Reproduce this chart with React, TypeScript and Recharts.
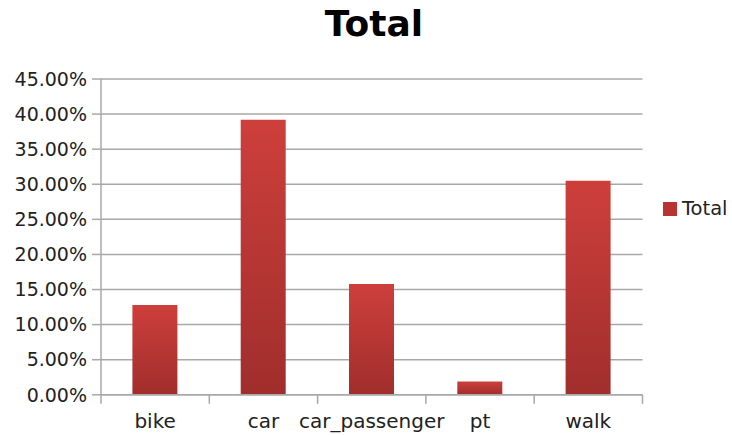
import React from 'react';
import { BarChart, Bar, XAxis, YAxis, CartesianGrid } from 'recharts';

const categories = ['bike', 'car', 'car_passenger', 'pt', 'walk'];
const totalValues = [0.128, 0.392, 0.158, 0.019, 0.305];
const yTicks = [0, 0.05, 0.1, 0.15, 0.2, 0.25, 0.3, 0.35, 0.4, 0.45];
const edgeTicks = [0, 1, 2, 3, 4, 5];
const seriesName = 'Total';

const data = categories.map((c, i) => ({ name: c, Total: totalValues[i], edge: i }));

const FONT = '"DejaVu Sans", sans-serif';
const GRID = '#a8a8a8';

export default function App() {
  return (
    <div style={{ position: 'absolute', left: 0, top: 0, width: 732, height: 435, background: '#fff' }}>
      <div
        style={{
          position: 'absolute',
          left: 274,
          top: 6,
          width: 200,
          textAlign: 'center',
          fontFamily: FONT,
          fontWeight: 'bold',
          fontSize: 36,
          lineHeight: '36px',
          color: '#000',
        }}
      >
        {seriesName}
      </div>
      <div
        style={{
          position: 'absolute',
          left: 663,
          top: 197,
          fontFamily: FONT,
          fontSize: 19.5,
          lineHeight: '24px',
          color: '#222',
          display: 'flex',
          alignItems: 'center',
        }}
      >
        <span style={{ display: 'inline-block', width: 14, height: 13.5, background: '#b83431', marginRight: 5 }} />
        <span>{seriesName}</span>
      </div>
      <BarChart
        width={732}
        height={435}
        data={data}
        margin={{ top: 79, right: 89.5, left: 0, bottom: 0 }}
        barCategoryGap="29%"
      >
        <defs>
          <linearGradient id="barGrad" x1="0" y1="0" x2="0" y2="1">
            <stop offset="0%" stopColor="#cd3f3b" />
            <stop offset="100%" stopColor="#a02e2c" />
          </linearGradient>
        </defs>
        <CartesianGrid vertical={false} stroke={GRID} strokeWidth={1.5} xAxisId="cat" />
        <XAxis
          xAxisId={0}
          type="number"
          dataKey="edge"
          domain={[0, 5]}
          allowDataOverflow
          ticks={edgeTicks}
          height={1}
          tickSize={9}
          tickFormatter={() => ''}
          axisLine={{ stroke: GRID, strokeWidth: 1.5 }}
          tickLine={{ stroke: GRID, strokeWidth: 1.5 }}
        />
        <XAxis
          xAxisId="cat"
          dataKey="name"
          height={39.2}
          axisLine={false}
          tickLine={false}
          tickSize={8}
          tickMargin={10}
          interval={0}
          tick={{ fill: '#222', fontSize: 20, fontFamily: FONT }}
        />
        <YAxis
          width={101}
          domain={[0, 0.45]}
          ticks={yTicks}
          tickFormatter={(v: number) => (v * 100).toFixed(2) + '%'}
          axisLine={{ stroke: GRID, strokeWidth: 1.5 }}
          tickLine={{ stroke: GRID, strokeWidth: 1.5 }}
          tickSize={9}
          tickMargin={5}
          tick={{ fill: '#222', fontSize: 19, fontFamily: FONT }}
        />
        <Bar xAxisId="cat" dataKey="Total" name={seriesName} fill="url(#barGrad)" isAnimationActive={false} />
      </BarChart>
    </div>
  );
}
